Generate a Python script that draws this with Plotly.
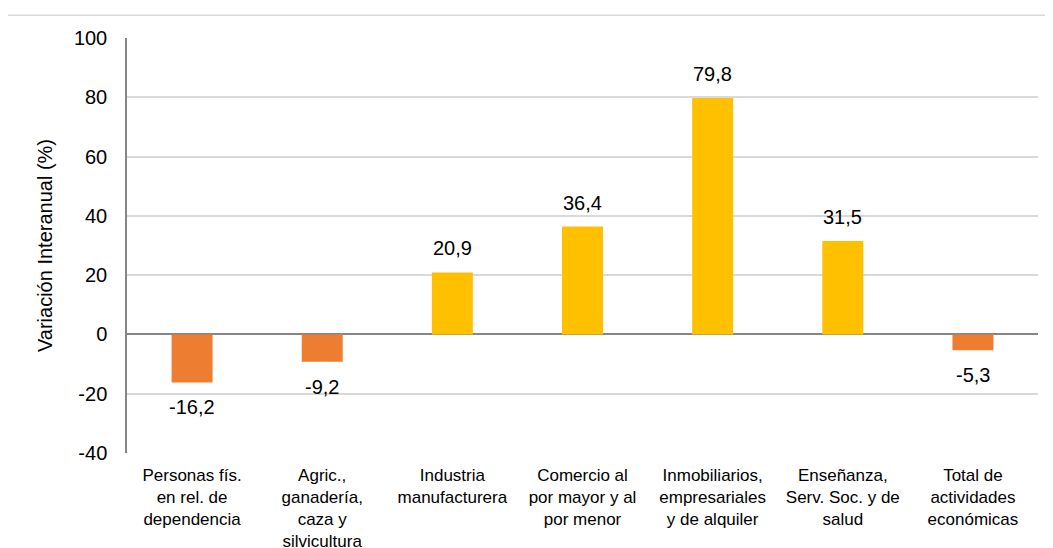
import plotly.graph_objects as go

# Data
categories = [
    "Personas fís.<br>en rel. de<br>dependencia",
    "Agric.,<br>ganadería,<br>caza y<br>silvicultura",
    "Industria<br>manufacturera",
    "Comercio al<br>por mayor y al<br>por menor",
    "Inmobiliarios,<br>empresariales<br>y de alquiler",
    "Enseñanza,<br>Serv. Soc. y de<br>salud",
    "Total de<br>actividades<br>económicas",
]
values = [-16.2, -9.2, 20.9, 36.4, 79.8, 31.5, -5.3]
y_ticks = [-40, -20, 0, 20, 40, 60, 80, 100]

POS_COLOR = "#FFC000"
NEG_COLOR = "#ED7D31"
FONT = "Liberation Sans, Arial, sans-serif"

bar_colors = [POS_COLOR if v >= 0 else NEG_COLOR for v in values]
bar_text = [f"{v:.1f}".replace(".", ",") for v in values]

fig = go.Figure()
fig.add_trace(go.Bar(
    x=categories,
    y=values,
    marker=dict(color=bar_colors, line=dict(width=0)),
    hovertemplate="%{x}<br>%{y}<extra></extra>",
))

# value labels, placed a bit away from the bar ends
for cat, val, txt in zip(categories, values, bar_text):
    fig.add_annotation(
        x=cat, y=val, text=txt,
        showarrow=False,
        yanchor="middle",
        yshift=24 if val >= 0 else -25,
        font=dict(family=FONT, size=20, color="#000000"),
    )

# the page body adds an 8px offset, margins compensate for it
fig.update_layout(
    width=1053,
    height=548,
    margin=dict(l=119, r=23, t=30, b=103, autoexpand=False),
    paper_bgcolor="white",
    plot_bgcolor="white",
    showlegend=False,
    bargap=0.685,
    font=dict(family=FONT, color="#000000"),
)

fig.update_yaxes(
    range=[-40, 100],
    tickvals=y_ticks,
    ticktext=[str(t) for t in y_ticks],
    tickfont=dict(size=20),
    ticklabelstandoff=14,
    showgrid=True,
    gridcolor="#D9D9D9",
    gridwidth=1.5,
    zeroline=True,
    zerolinecolor="#868686",
    zerolinewidth=1.5,
    showline=True,
    linecolor="#868686",
    linewidth=1.5,
    ticks="",
    title=dict(text="Variación Interanual (%)", font=dict(size=20), standoff=16),
)

fig.update_xaxes(
    tickfont=dict(size=17),
    ticklabelstandoff=10,
    showline=False,
    ticks="",
    tickangle=0,
)

# light gray chart-area border
fig.add_shape(
    type="rect", xref="paper", yref="paper",
    x0=-0.132, x1=1.05, y0=-0.4, y1=1.055,
    line=dict(color="#D9D9D9", width=1.5),
    fillcolor="rgba(0,0,0,0)",
    layer="below",
)

fig.write_html("out.html")
